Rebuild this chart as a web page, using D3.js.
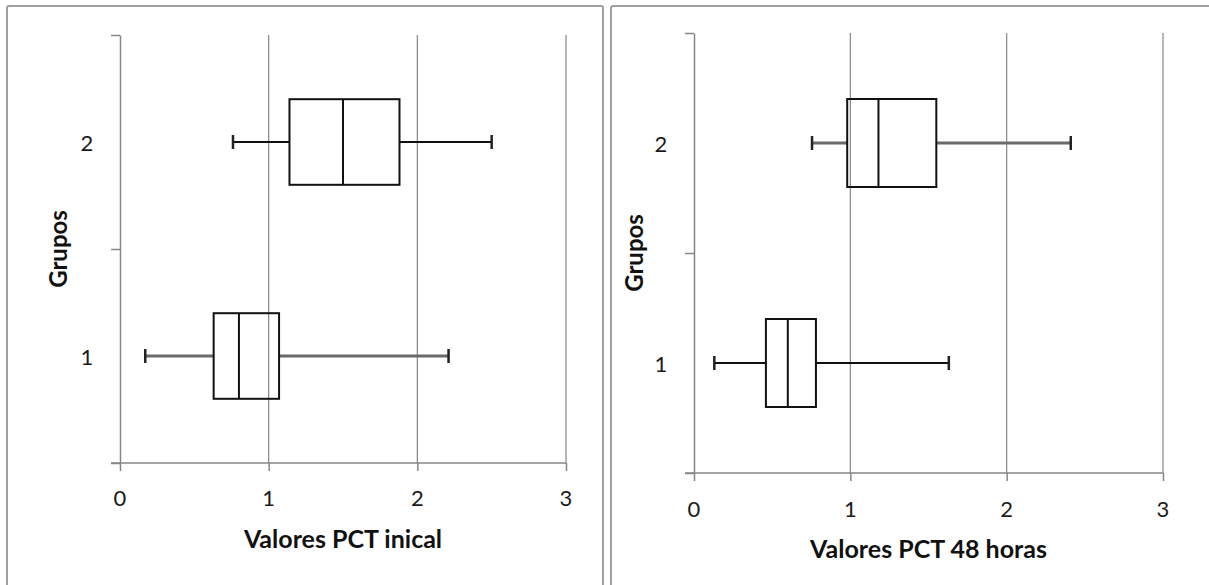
<!DOCTYPE html>
<html>
<head>
<meta charset="utf-8">
<script src="https://cdn.jsdelivr.net/npm/d3@7"></script>
<style>
  html, body { margin: 0; padding: 0; background: #fff; }
  svg { display: block; }
</style>
</head>
<body>
<svg id="chart" width="1209" height="585"></svg>
<script>
// ---- data ----
const groups = ["1", "2"];
const xTicks = [0, 1, 2, 3];

const inicialMin    = [0.17, 0.76];
const inicialQ1     = [0.63, 1.14];
const inicialMedian = [0.80, 1.50];
const inicialQ3     = [1.07, 1.88];
const inicialMax    = [2.21, 2.50];

const h48Min    = [0.13, 0.755];
const h48Q1     = [0.46, 0.98];
const h48Median = [0.60, 1.18];
const h48Q3     = [0.78, 1.55];
const h48Max    = [1.63, 2.41];

const titleInicial = "Valores PCT inical";
const title48 = "Valores PCT 48 horas";
const yTitle = "Grupos";

// ---- build ----
function rows(mins, q1s, meds, q3s, maxs) {
  return groups.map((g, i) => ({ g, min: mins[i], q1: q1s[i], med: meds[i], q3: q3s[i], max: maxs[i] }));
}

const panels = [
  { frame: { x: 7, y: 6, w: 596, h: 640 },
    plot: { x0: 120, x1: 566, y0: 35, y1: 463 },
    tickY: 497, titleY: 538, ylabX: 87, yTitleX: 57,
    title: titleInicial, soft: [true, false],
    data: rows(inicialMin, inicialQ1, inicialMedian, inicialQ3, inicialMax) },
  { frame: { x: 611, y: 6, w: 640, h: 640 },
    plot: { x0: 694, x1: 1163, y0: 33, y1: 473 },
    tickY: 508, titleY: 548, ylabX: 661, yTitleX: 633,
    title: title48, soft: [false, true],
    data: rows(h48Min, h48Q1, h48Median, h48Q3, h48Max) }
];

const svg = d3.select("#chart");
const axisColor = "#868686";
const fontTick = "Lato, 'Open Sans', sans-serif";

panels.forEach(p => {
  const g = svg.append("g");
  g.append("rect")
    .attr("x", p.frame.x).attr("y", p.frame.y)
    .attr("width", p.frame.w).attr("height", p.frame.h)
    .attr("rx", 2)
    .attr("fill", "#fff").attr("stroke", "#a0a0a0").attr("stroke-width", 2);

  const x = d3.scaleLinear().domain([0, 3]).range([p.plot.x0, p.plot.x1]);
  const yEdge = d3.scaleLinear().domain([0, groups.length]).range([p.plot.y1, p.plot.y0]);
  const y = d3.scaleBand().domain(groups).range([p.plot.y1, p.plot.y0]).padding(0);
  const bh = y.bandwidth() * 0.4;

  // gridlines
  g.append("g").selectAll("line").data(xTicks.filter(t => t > 0)).join("line")
    .attr("x1", d => x(d)).attr("x2", d => x(d))
    .attr("y1", p.plot.y0).attr("y2", p.plot.y1)
    .attr("stroke", axisColor).attr("stroke-width", 1.2);

  // x axis
  const xa = g.append("g").attr("transform", `translate(0,${p.plot.y1})`)
    .call(d3.axisBottom(x).tickValues(xTicks).tickSize(8).tickSizeOuter(0).tickFormat(d3.format("d")));
  xa.select(".domain").attr("stroke", axisColor).attr("stroke-width", 1.5)
    .attr("d", `M${p.plot.x0 - 9},0H${p.plot.x1}`);
  xa.selectAll(".tick line").attr("stroke", axisColor).attr("stroke-width", 1.5);
  xa.selectAll(".tick text").remove();
  g.append("g").selectAll("text").data(xTicks).join("text")
    .attr("x", d => x(d)).attr("y", p.tickY)
    .attr("text-anchor", "middle").attr("dominant-baseline", "central")
    .attr("font-family", fontTick).attr("font-size", 22).attr("fill", "#1a1a1a")
    .text(d => d);

  // y axis
  const ya = g.append("g").attr("transform", `translate(${p.plot.x0},0)`)
    .call(d3.axisLeft(yEdge).tickValues(d3.range(0, groups.length + 1)).tickSize(9).tickSizeOuter(0).tickFormat(""));
  ya.select(".domain").attr("stroke", axisColor).attr("stroke-width", 1.5);
  ya.selectAll(".tick line").attr("stroke", axisColor).attr("stroke-width", 1.5);
  g.append("g").selectAll("text").data(groups).join("text")
    .attr("x", p.ylabX).attr("y", d => y(d) + y.bandwidth() / 2)
    .attr("text-anchor", "middle").attr("dominant-baseline", "central")
    .attr("font-family", fontTick).attr("font-size", 22).attr("fill", "#1a1a1a")
    .text(d => d);

  // titles
  g.append("text")
    .attr("x", (p.plot.x0 + p.plot.x1) / 2).attr("y", p.titleY)
    .attr("text-anchor", "middle").attr("dominant-baseline", "central")
    .attr("font-family", fontTick).attr("font-weight", "bold").attr("font-size", 25).attr("fill", "#111")
    .text(p.title);
  const cy = (p.plot.y0 + p.plot.y1) / 2;
  g.append("text")
    .attr("transform", `translate(${p.yTitleX},${cy}) rotate(-90)`)
    .attr("text-anchor", "middle").attr("dominant-baseline", "central")
    .attr("font-family", fontTick).attr("font-weight", "bold").attr("font-size", 24).attr("fill", "#111")
    .text(yTitle);

  // boxes
  const bx = g.append("g").selectAll("g").data(p.data).join("g");
  bx.each(function (d, i) {
    const s = d3.select(this);
    const c = y(d.g) + y.bandwidth() / 2;
    const wc = p.soft[i] ? "#6a6a6a" : "#111";
    const ww = p.soft[i] ? 3 : 2;
    s.append("line").attr("x1", x(d.min)).attr("x2", x(d.q1)).attr("y1", c).attr("y2", c)
      .attr("stroke", wc).attr("stroke-width", ww);
    s.append("line").attr("x1", x(d.q3)).attr("x2", x(d.max)).attr("y1", c).attr("y2", c)
      .attr("stroke", wc).attr("stroke-width", ww);
    [d.min, d.max].forEach(v => {
      s.append("line").attr("x1", x(v)).attr("x2", x(v)).attr("y1", c - 7).attr("y2", c + 7)
        .attr("stroke", "#222").attr("stroke-width", 2.5);
    });
    s.append("rect").attr("x", x(d.q1)).attr("y", c - bh / 2)
      .attr("width", x(d.q3) - x(d.q1)).attr("height", bh)
      .attr("fill", "none").attr("stroke", "#111").attr("stroke-width", 2);
    s.append("line").attr("x1", x(d.med)).attr("x2", x(d.med))
      .attr("y1", c - bh / 2).attr("y2", c + bh / 2)
      .attr("stroke", "#111").attr("stroke-width", 2);
  });
});
</script>
</body>
</html>
